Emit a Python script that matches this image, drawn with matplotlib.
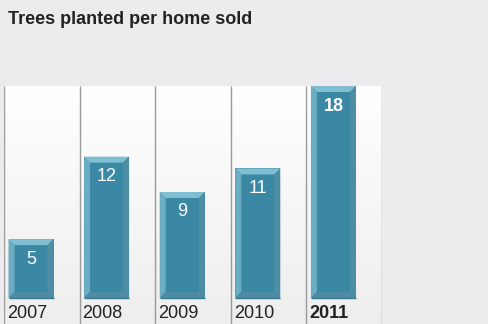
import numpy as np
import matplotlib.pyplot as plt
from matplotlib.patches import Polygon, Rectangle
from matplotlib.colors import LinearSegmentedColormap

years = ['2007', '2008', '2009', '2010', '2011']
trees = [5, 12, 9, 11, 18]
highlight = '2011'

BG = '#ececee'
FACE = '#3b88a4'
TOP = '#7fbfd1'
LEFT = '#6badc3'
RIGHT = '#4e8ea4'
BOTTOM = '#4d8ca2'
SEP = '#9a9a9a'

W, H = 488, 324
fig = plt.figure(figsize=(W / 100, H / 100), dpi=100)
fig.patch.set_facecolor(BG)

# plotting area: panels start at y=86px, baseline of bars at 298px
px_per_unit = (298 - 86) / 18.0
ymin = -(324 - 298) / px_per_unit
ax = fig.add_axes([4 / W, 0, (382 - 4) / W, (324 - 86) / H])
ax.set_xlim(-0.5, len(years) - 0.5)
ax.set_ylim(ymin, 18)
ax.axis('off')

# column panels with a soft white-to-grey gradient
grad = np.linspace(1.0, 0.0, 256).reshape(-1, 1)
cmap = LinearSegmentedColormap.from_list('panel', ['#eeeeef', '#ffffff'])
for i in range(len(years)):
    ax.imshow(grad, cmap=cmap, aspect='auto', extent=[i - 0.5, i + 0.5, ymin, 18],
              zorder=0, vmin=0, vmax=1)
for i in range(len(years) + 1):
    ax.plot([i - 0.5, i - 0.5], [ymin, 18], color=SEP, lw=1.0, zorder=1,
            solid_capstyle='butt')

# bevelled bars
unit_x = 75.6
bar_w = 45 / unit_x
off = 4.5 / unit_x
bx = 6 / unit_x
by = 6 / px_per_unit
for i, (yr, v) in enumerate(zip(years, trees)):
    x0 = i - 0.5 + off
    x1 = x0 + bar_w
    y0, y1 = 0, v
    ax.add_patch(Rectangle((x0, y0), bar_w, v, facecolor=FACE, edgecolor='none', zorder=2))
    ax.add_patch(Polygon([(x0, y1), (x1, y1), (x1 - bx, y1 - by), (x0 + bx, y1 - by)],
                         facecolor=TOP, edgecolor='none', zorder=3))
    ax.add_patch(Polygon([(x0, y0), (x0, y1), (x0 + bx, y1 - by), (x0 + bx, y0 + by)],
                         facecolor=LEFT, edgecolor='none', zorder=3))
    ax.add_patch(Polygon([(x1, y0), (x1, y1), (x1 - bx, y1 - by), (x1 - bx, y0 + by)],
                         facecolor=RIGHT, edgecolor='none', zorder=3))
    ax.add_patch(Polygon([(x0, y0), (x1, y0), (x1 - bx, y0 + by), (x0 + bx, y0 + by)],
                         facecolor=BOTTOM, edgecolor='none', zorder=3))
    ax.plot([x0, x1], [y0, y0], color='#3a7890', lw=1, zorder=4, solid_capstyle='butt')

    bold = 'bold' if yr == highlight else 'normal'
    ax.text((x0 + x1) / 2, v - 20 / px_per_unit, str(v), ha='center', va='center',
            color='white', fontsize=13, fontweight=bold, family='Liberation Sans', zorder=5)
    ax.text(i - 0.5 + 3 / unit_x, -15 / px_per_unit, yr, ha='left', va='center',
            color='#222222', fontsize=13, fontweight=bold, family='Liberation Sans', zorder=5)

fig.text(8 / W, 1 - 19 / H, 'Trees planted per home sold', ha='left', va='center',
         fontsize=13, fontweight='bold', color='#222222', family='Liberation Sans')

fig.savefig('out.png', dpi=100, facecolor=BG)
